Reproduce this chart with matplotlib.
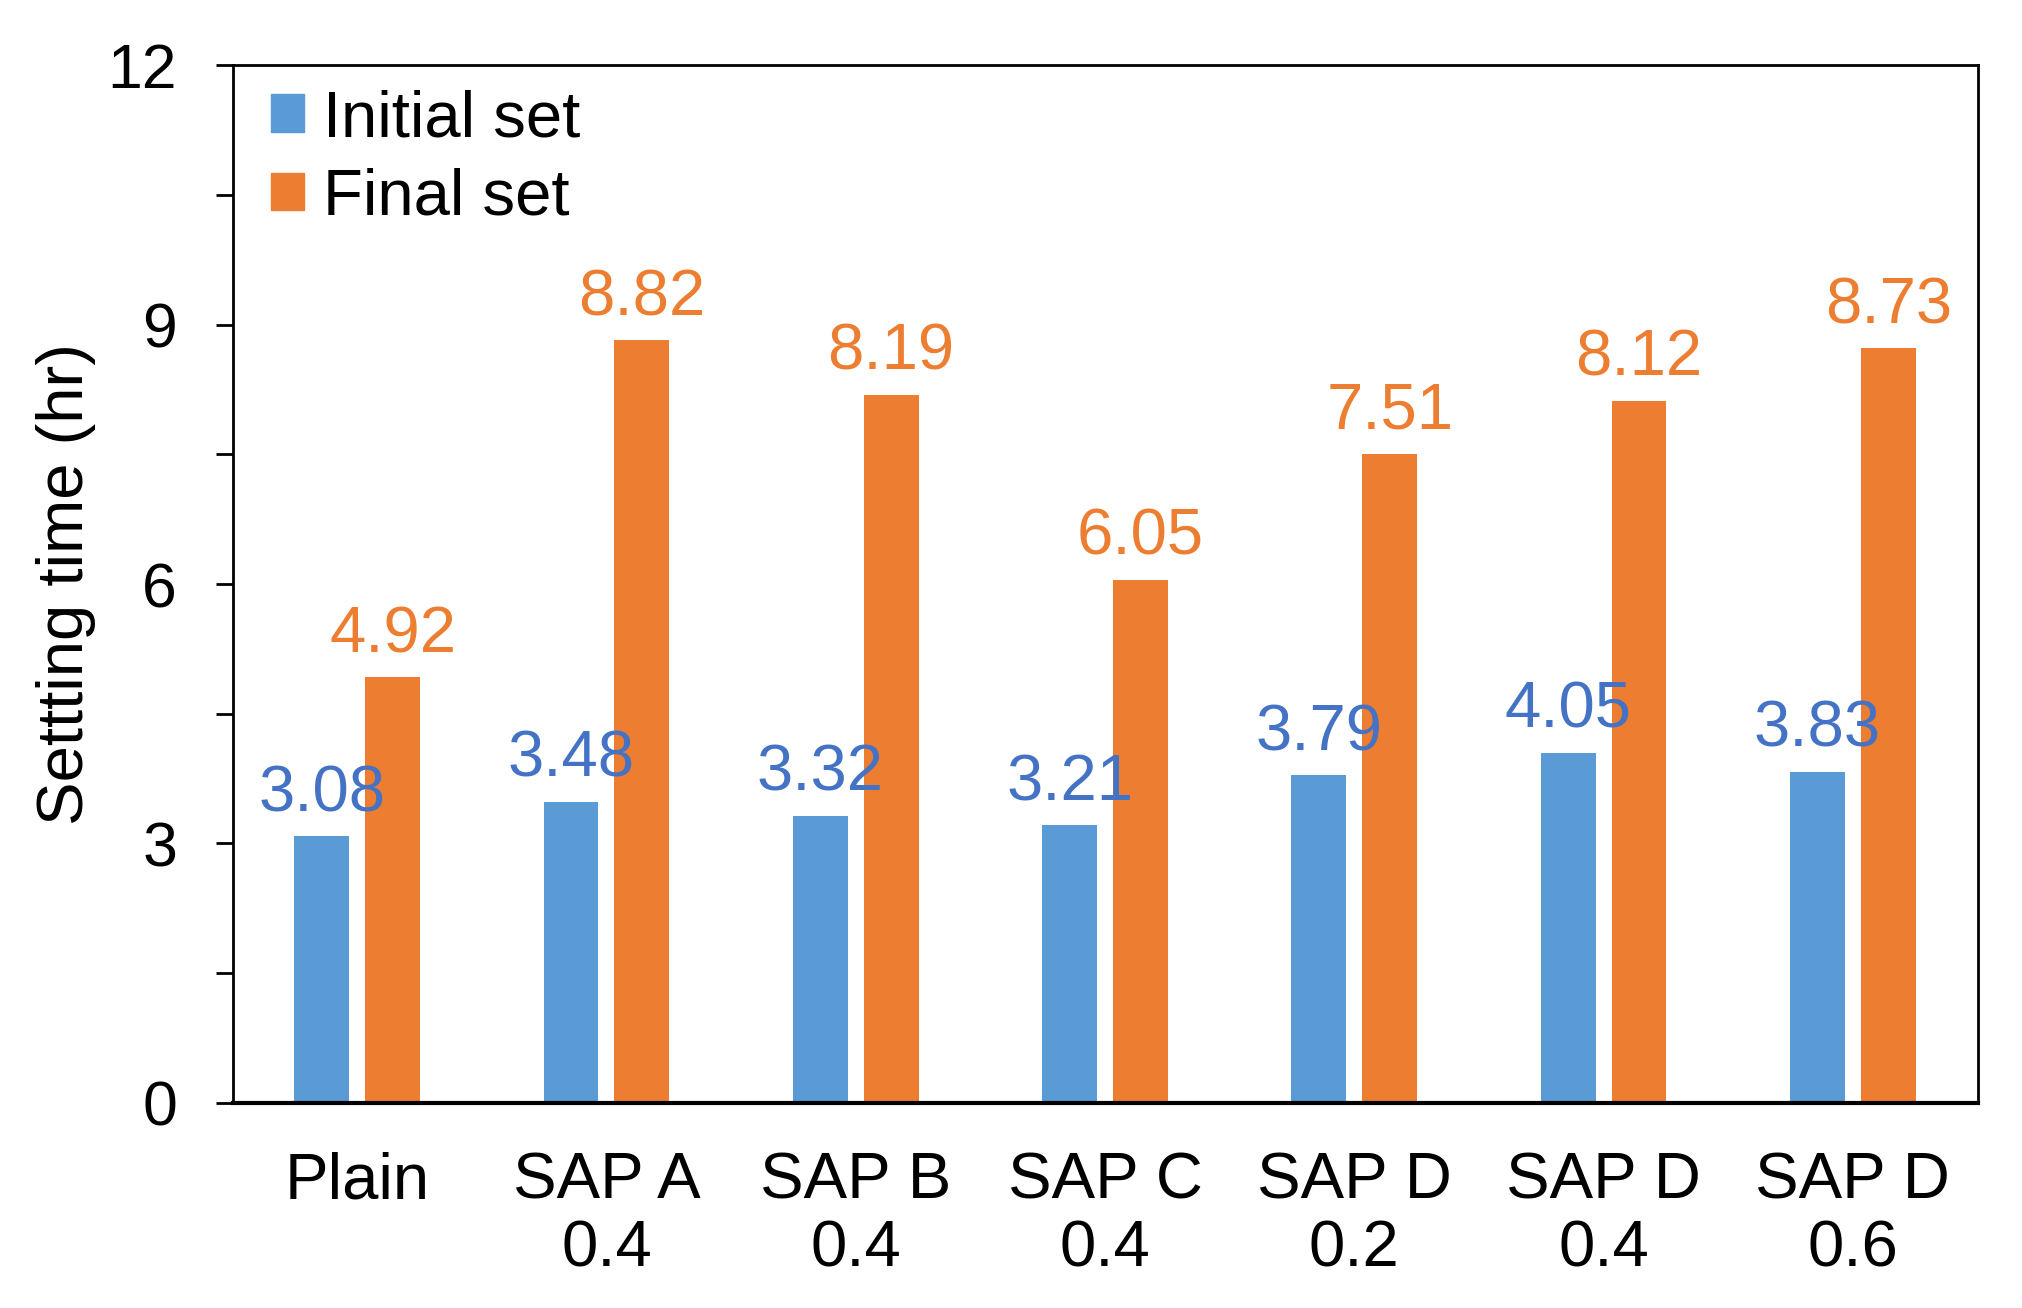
import numpy as np
import matplotlib
matplotlib.use("Agg")
import matplotlib.pyplot as plt
from matplotlib.patches import Patch
from matplotlib.ticker import MultipleLocator

plt.rcParams['font.family'] = ['Liberation Sans', 'DejaVu Sans']

# Data
categories = ["Plain", "SAP A\n0.4", "SAP B\n0.4", "SAP C\n0.4",
              "SAP D\n0.2", "SAP D\n0.4", "SAP D\n0.6"]
initial_set = [3.08, 3.48, 3.32, 3.21, 3.79, 4.05, 3.83]
final_set = [4.92, 8.82, 8.19, 6.05, 7.51, 8.12, 8.73]

blue = "#5B9BD5"
orange = "#ED7D31"
blue_text = "#4472C4"
fs = 47

fig = plt.figure(figsize=(20.22, 13.08), dpi=100)
ax = fig.add_axes([0.115, 0.157, 0.978 - 0.115, 0.950 - 0.157])

x = np.arange(len(categories))
w = 0.22
b1 = ax.bar(x - 0.142, initial_set, w, color=blue)
b2 = ax.bar(x + 0.142, final_set, w, color=orange)

# value labels above bars
for bars, vals, c in [(b1, initial_set, blue_text), (b2, final_set, orange)]:
    for r, v in zip(bars, vals):
        ax.annotate(f"{v:.2f}", (r.get_x() + r.get_width() / 2, v),
                    xytext=(0, 18), textcoords="offset points",
                    ha="center", va="baseline", fontsize=fs, color=c)

ax.set_xlim(-0.5, len(categories) - 0.5)
ax.set_ylim(0, 12)
ax.yaxis.set_major_locator(MultipleLocator(3))
ax.yaxis.set_minor_locator(MultipleLocator(1.5))
ax.tick_params(axis="y", which="both", direction="out", length=12, width=2,
               labelsize=45, pad=28)
ax.set_xticks(x)
ax.set_xticklabels(categories, fontsize=fs, linespacing=1.17)
ax.tick_params(axis="x", length=0, pad=35)

for s in ax.spines.values():
    s.set_linewidth(2)
ax.spines["bottom"].set_linewidth(3)

ax.set_ylabel("Settting time (hr)", fontsize=fs)
ax.yaxis.set_label_coords(-0.078, 0.5)

handles = [Patch(color=blue, label="Initial set"),
           Patch(color=orange, label="Final set")]
ax.legend(handles=handles, loc="upper left", bbox_to_anchor=(0.022, 0.977),
          frameon=False, fontsize=fs, handlelength=0.5, handleheight=0.5,
          handletextpad=0.3, labelspacing=0.28, borderpad=0, borderaxespad=0)

fig.savefig("out.png", dpi=100)
